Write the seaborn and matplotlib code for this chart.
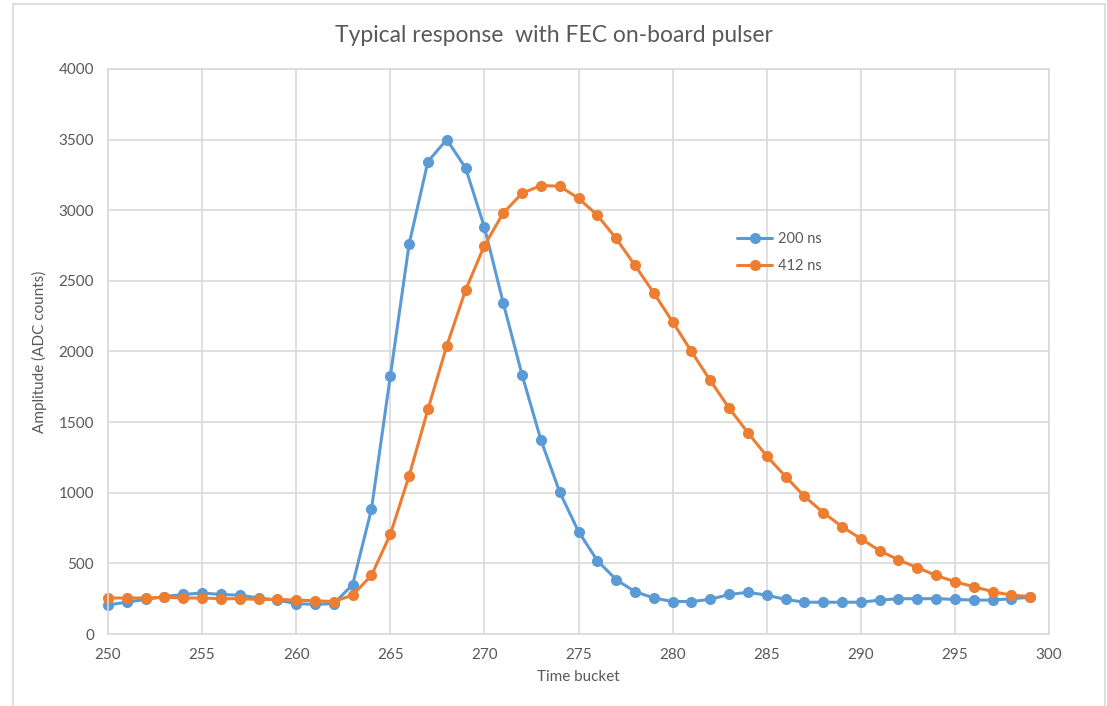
import matplotlib
matplotlib.use("Agg")
import matplotlib.pyplot as plt
import seaborn as sns
import pandas as pd
from matplotlib.patches import Rectangle

time_bucket = list(range(250, 300))

ns200 = [205, 226, 245, 265, 280, 290, 280, 275, 255, 240,
         215, 210, 215, 350, 885, 1825, 2760, 3345, 3500, 3300,
         2880, 2345, 1835, 1375, 1005, 725, 520, 385, 300, 255,
         230, 230, 245, 280, 295, 275, 245, 225, 225, 225,
         225, 240, 250, 250, 250, 245, 240, 240, 250, 260]

ns412 = [255, 255, 255, 260, 255, 255, 250, 250, 245, 245,
         240, 235, 230, 275, 415, 705, 1120, 1590, 2040, 2435,
         2750, 2980, 3120, 3175, 3170, 3085, 2965, 2800, 2610, 2415,
         2210, 2000, 1795, 1600, 1425, 1260, 1115, 975, 860, 760,
         675, 590, 525, 470, 415, 370, 335, 300, 275, 265]

series_names = ["200 ns", "412 ns"]
colors = ["#5B9BD5", "#ED7D31"]

x_ticks = list(range(250, 301, 5))
y_ticks = list(range(0, 4001, 500))

df = pd.DataFrame({
    "Time bucket": time_bucket * 2,
    "Amplitude": ns200 + ns412,
    "Series": [series_names[0]] * len(time_bucket) + [series_names[1]] * len(time_bucket),
})

sns.set_theme(style="white")
plt.rcParams["font.family"] = ["Lato", "DejaVu Sans"]

fig = plt.figure(figsize=(11.07, 7.06), dpi=100)
ax = fig.add_axes([108 / 1107, 1 - 634 / 706, (1049 - 108) / 1107, (634 - 69) / 706])

sns.lineplot(data=df, x="Time bucket", y="Amplitude", hue="Series",
             palette=colors, marker="o", markersize=8, markeredgewidth=0,
             linewidth=2.2, ax=ax, legend=True)
for ln in ax.lines:
    ln.set_clip_on(False)

ax.set_xlim(250, 300)
ax.set_ylim(0, 4000)
ax.set_xticks(x_ticks)
ax.set_yticks(y_ticks)
ax.grid(True, color="#D9D9D9", linewidth=1.2)
ax.set_axisbelow(True)
for s in ax.spines.values():
    s.set_color("#D9D9D9")
    s.set_linewidth(1.2)
ax.tick_params(axis="both", length=0, colors="#595959", labelsize=11, pad=10)
ax.set_xlabel("Time bucket", color="#595959", fontsize=11, labelpad=6)
ax.set_ylabel("Amplitude (ADC counts)", color="#595959", fontsize=11, labelpad=8)

fig.suptitle("Typical response  with FEC on-board pulser", y=1 - 36 / 706,
             va="center", fontsize=16.5, color="#595959")

leg = ax.legend(loc="center left", bbox_to_anchor=(0.655, 0.675), frameon=False,
                fontsize=10.5, handlelength=2.4, labelspacing=0.9, handletextpad=0.4)
for t in leg.get_texts():
    t.set_color("#595959")

fig.patches.append(Rectangle((13 / 1107, -0.01), (1105 - 13) / 1107, 1 - 4 / 706 + 0.01,
                             transform=fig.transFigure, fill=False,
                             edgecolor="#D9D9D9", linewidth=1.2))

fig.savefig("out.png", dpi=100)
